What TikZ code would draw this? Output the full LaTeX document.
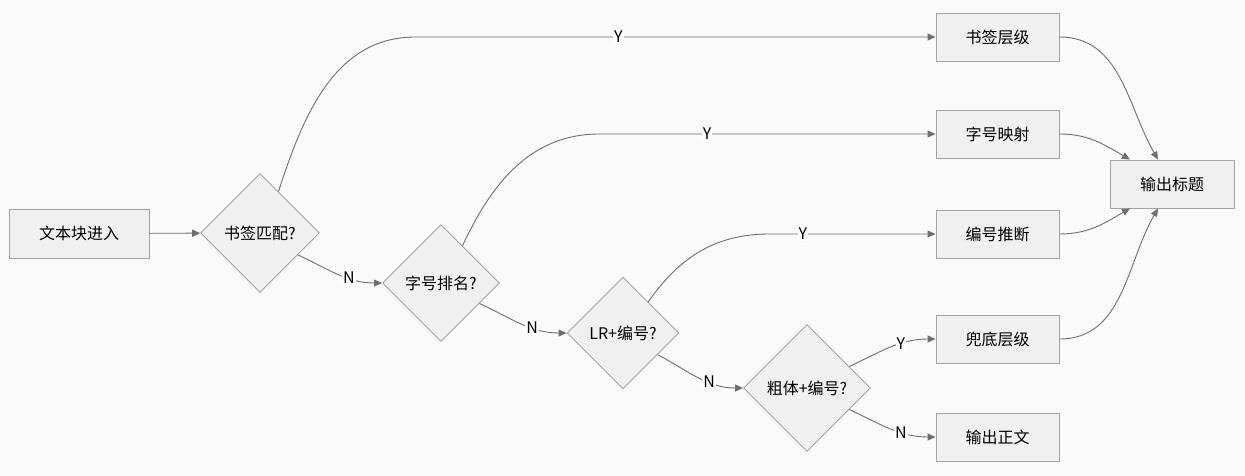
\documentclass[tikz,border=0pt]{standalone}
\usepackage{fontspec}
\setmainfont{Noto Sans CJK SC}
\usetikzlibrary{arrows.meta,positioning,calc,shapes.geometric}
\definecolor{nodefill}{HTML}{F0F0F0}
\definecolor{nodeline}{HTML}{A3A3A3}
\definecolor{edgeline}{HTML}{6E6E6E}
\definecolor{bgcol}{HTML}{FAFAFA}
\begin{document}
\begin{tikzpicture}[x=1pt,y=1pt,every node/.style={font=\fontsize{16}{19}\selectfont},
 b/.style={draw=nodeline,fill=nodefill,line width=0.9pt,minimum height=48pt,align=center},
 dia/.style={diamond,draw=nodeline,fill=nodefill,line width=0.9pt,inner sep=0pt,align=center},
 lbl/.style={fill=white,inner sep=1pt},
 arr/.style={-{Triangle[length=8pt,width=7pt]},draw=edgeline,line width=0.9pt}]
\fill[bgcol] (0,0) rectangle (1245,476);
\useasboundingbox (0,0) rectangle (1245,476);
\node[b,minimum width=140pt,minimum height=49pt] (in) at (79,242.5) {文本块进入};
\node[dia,minimum width=119pt,minimum height=119pt] (bm) at (260,243) {书签匹配?};
\node[dia,minimum width=117pt,minimum height=117pt] (fs) at (441,193) {字号排名?};
\node[dia,minimum width=112pt,minimum height=112pt] (lr) at (623,143) {LR+编号?};
\node[dia,minimum width=127pt,minimum height=127pt] (bd) at (807,88) {粗体+编号?};
\node[b,minimum width=123pt] (lv) at (997.5,439) {书签层级};
\node[b,minimum width=123pt] (map) at (997.5,342) {字号映射};
\node[b,minimum width=123pt] (num) at (997.5,242) {编号推断};
\node[b,minimum width=123pt] (fb) at (997.5,137) {兜底层级};
\node[b,minimum width=123pt] (body) at (997.5,39) {输出正文};
\node[b,minimum width=124pt] (title) at (1172,292) {输出标题};
% decision chain
\draw[arr](in)--(bm);
\draw[arr](bm.66) to[out=72,in=180] ($(lv.west)+(-520,0)$) -- node[lbl,pos=0.39]{Y} (lv.west);
\draw[arr](bm.-30) to[out=-25,in=180] node[lbl,pos=0.63]{N} (fs.west);
\draw[arr](fs.60) to[out=65,in=180] ($(map.west)+(-336,0)$) -- node[lbl,pos=0.32]{Y} (map.west);
\draw[arr](fs.-28) to[out=-25,in=180] node[lbl,pos=0.63]{N} (lr.west);
\draw[arr](lr.51) to[out=55,in=180] ($(num.west)+(-166,0)$) -- node[lbl,pos=0.2]{Y} (num.west);
\draw[arr](lr.-32) to[out=-28,in=180] node[lbl,pos=0.63]{N} (bd.west);
\draw[arr](bd.27) to[out=25,in=180] node[lbl,pos=0.62]{Y} (fb.west);
\draw[arr](bd.-27) to[out=-25,in=180] node[lbl,pos=0.62]{N} (body.west);
% merge into title
\draw[arr](lv.east) to[out=0,in=120] ($(title.north)+(-14,0)$);
\draw[arr](map.east) to[out=0,in=150] ($(title.north)+(-42,0)$);
\draw[arr](num.east) to[out=0,in=-150] ($(title.south)+(-42,0)$);
\draw[arr](fb.east) to[out=0,in=-120] ($(title.south)+(-14,0)$);
\end{tikzpicture}
\end{document}
